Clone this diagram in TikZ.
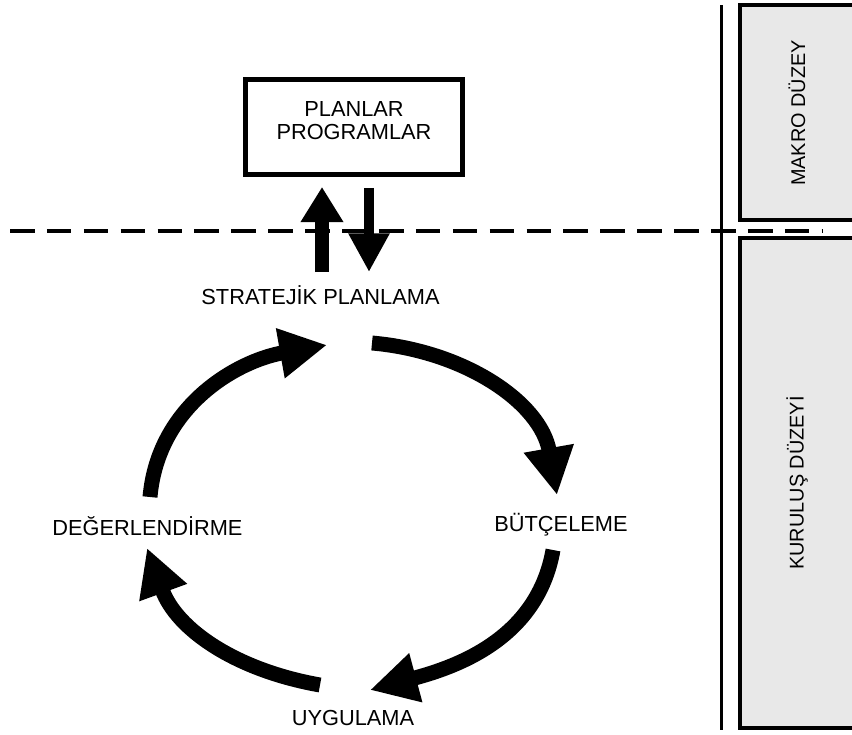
\documentclass[tikz,border=0pt]{standalone}
\usepackage{fontspec}
\setmainfont{Liberation Sans}
\usetikzlibrary{arrows.meta}
\tikzset{
    lbl/.style={
        inner sep=0pt,
        font=\fontsize{12.4}{13}\selectfont,
        text height=8.9pt,
        text depth=0pt},
    planbox/.style={
        draw,
        line width=2.8pt,
        minimum width=4.34cm,
        minimum height=1.9cm,
        inner sep=0pt,
        align=center,
        font=\fontsize{12.4}{13}\selectfont},
    panel/.style={
        draw,
        line width=2.2pt,
        fill=black!9},
    paneltext/.style={
        rotate=90,
        inner sep=0pt,
        font=\fontsize{11.3}{12}\selectfont},
    cycle arrow/.style={
        line width=8.5pt,
        -{Triangle[length=27pt,width=27pt]}},
    up arrow/.style={
        line width=8pt,
        -{Triangle[length=20pt,width=23pt]}},
    down arrow/.style={
        line width=5.7pt,
        -{Triangle[length=22pt,width=22pt]}}}
\begin{document}
\begin{tikzpicture}[x=0.02cm,y=-0.02cm]
        \path[use as bounding box] (0,0) rectangle (852,734);
        \clip (0,0) rectangle (852,734);

        % levels on the right
        \draw[panel] (740,5) rectangle (880,220);
        \draw[panel] (740,238) rectangle (880,728);
        \node[paneltext] (makro) at (797,113) {MAKRO DÜZEY};
        \node[paneltext] (kurulus) at (797,483) {KURULUŞ DÜZEYİ};
        \draw[line width=1.7pt] (721,5) -- (721,730);
        \draw[line width=2pt,dash pattern=on 14pt off 7pt] (10,231) -- (822,231);

        \node[planbox] (plan) at (354,127) {PLANLAR\\PROGRAMLAR\rule[-7pt]{0pt}{7pt}};
        \node[lbl] (strat) at (320.5,297) {STRATEJİK PLANLAMA};
        \node[lbl] (butce) at (561,524) {BÜTÇELEME};
        \node[lbl] (uyg) at (353,718) {UYGULAMA};
        \node[lbl] (deger) at (147.5,528) {DEĞERLENDİRME};

        \coordinate (up0) at (322,272);
        \coordinate (dn0) at (369,272);
        \draw[up arrow,shorten >=0.2cm] (up0) -- (up0 |- plan.south);
        \draw[down arrow,shorten <=0.22cm] (dn0 |- plan.south) -- (dn0);

        %\draw (strat) edge[bend left] (butce);
        \coordinate (c1) at (150,497);
        \coordinate (c2) at (327,345);
        \coordinate (c3) at (372,343);
        \coordinate (c4) at (557,495);
        \coordinate (c5) at (553,550);
        \coordinate (c6) at (370,690);
        \coordinate (c7) at (320,685);
        \coordinate (c8) at (147,548);
        \draw[cycle arrow] (c1) to[out=85,in=190] (c2);
        \draw[cycle arrow] (c3) to[out=-5,in=100] (c4);
        \draw[cycle arrow] (c5) to[out=-100,in=15] (c6);
        \draw[cycle arrow] (c7) to[out=170,in=-70] (c8);
    \end{tikzpicture}
\end{document}
